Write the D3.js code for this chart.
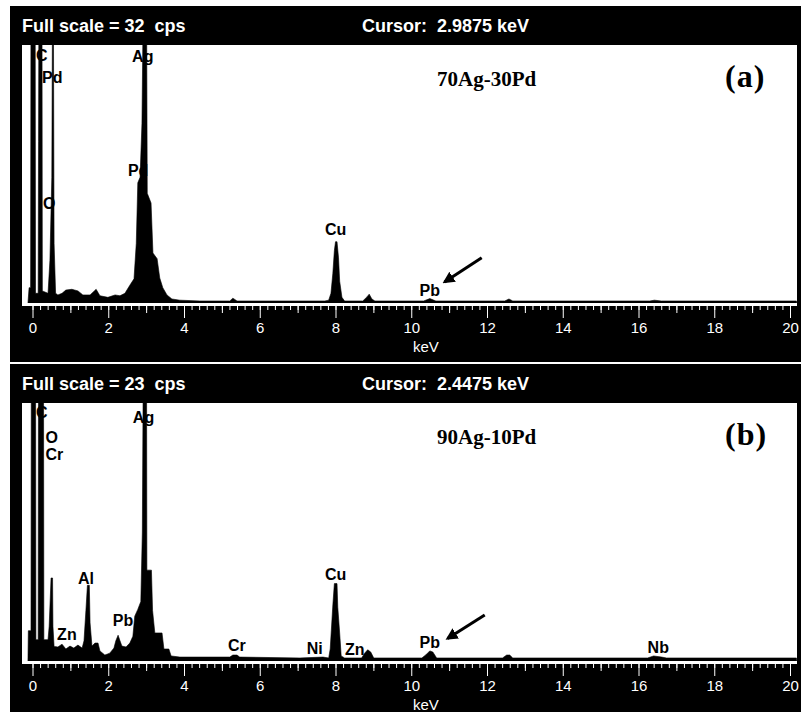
<!DOCTYPE html>
<html>
<head>
<meta charset="utf-8">
<script src="https://cdn.jsdelivr.net/npm/d3@7"></script>
<style>
  body { margin: 0; background: #fff; }
  svg { display: block; }
</style>
</head>
<body>
<svg width="801" height="712"></svg>
<script>
// tick labels on the energy axis (keV)
var tickLabels = [0, 2, 4, 6, 8, 10, 12, 14, 16, 18, 20];

// spectrum (a) 70Ag-30Pd : [keV, cps]
var spectrumA = [
  [-0.12, 0], [-0.09, 1.9], [-0.05, 1.9], [-0.04, 40], [0.07, 40], [0.08, 1.2],
  [0.15, 1.2], [0.16, 20], [0.17, 40], [0.25, 40], [0.26, 1.5], [0.41, 1.2],
  [0.46, 5.3], [0.51, 15.6], [0.53, 40], [0.55, 40], [0.57, 7.4], [0.61, 1.2],
  [0.67, 1.0], [0.78, 1.2], [0.88, 1.6], [1.04, 1.7], [1.20, 1.5], [1.33, 1.0],
  [1.52, 1.0], [1.68, 1.7], [1.78, 0.9], [1.99, 0.7], [2.18, 1.0], [2.31, 0.9],
  [2.44, 1.2], [2.57, 2.2], [2.68, 3.0], [2.74, 7.4], [2.78, 14.9], [2.84, 15.6],
  [2.89, 22.3], [2.93, 40], [3.01, 40], [3.03, 13.6], [3.13, 12.4], [3.18, 6.2],
  [3.29, 5.5], [3.36, 3.1], [3.44, 1.9], [3.55, 1.0], [3.68, 0.5], [3.89, 0.35],
  [4.42, 0.25], [5.21, 0.25], [5.29, 0.6], [5.40, 0.25], [6.53, 0.25], [7.72, 0.25],
  [7.82, 0.35], [7.88, 1.2], [7.93, 3.7], [7.97, 6.5], [8.00, 7.6], [8.04, 7.6],
  [8.08, 5.6], [8.11, 2.7], [8.17, 0.7], [8.24, 0.25], [8.72, 0.25], [8.83, 0.75],
  [8.89, 1.1], [8.96, 0.5], [9.04, 0.25], [10.33, 0.25], [10.49, 0.55], [10.65, 0.25],
  [12.47, 0.25], [12.58, 0.5], [12.68, 0.25], [16.30, 0.25], [16.42, 0.35], [16.60, 0.25],
  [20.17, 0.25], [20.18, 0]
];

// spectrum (b) 90Ag-10Pd : [keV, cps]
var spectrumB = [
  [-0.12, 0], [-0.11, 2.7], [-0.04, 2.7], [-0.03, 30], [0.08, 30], [0.09, 1.9],
  [0.15, 1.9], [0.16, 30], [0.29, 30], [0.30, 1.9], [0.41, 1.9], [0.44, 3.1],
  [0.49, 7.4], [0.53, 7.4], [0.54, 3.1], [0.57, 1.3], [0.67, 1.25], [0.78, 1.5],
  [0.88, 1.07], [0.99, 1.33], [1.09, 1.15], [1.20, 1.42], [1.31, 1.15], [1.36, 1.8],
  [1.41, 4.5], [1.45, 6.75], [1.50, 6.75], [1.52, 3.4], [1.57, 1.33], [1.65, 1.6],
  [1.73, 1.6], [1.78, 0.9], [1.91, 0.53], [2.04, 0.7], [2.15, 1.15], [2.20, 1.8],
  [2.26, 2.3], [2.31, 1.8], [2.36, 1.33], [2.47, 1.25], [2.57, 1.6], [2.65, 2.2],
  [2.70, 4.0], [2.78, 4.6], [2.86, 5.3], [2.90, 11.5], [2.93, 30], [3.01, 30],
  [3.02, 8.1], [3.14, 8.1], [3.17, 4.5], [3.23, 2.5], [3.42, 2.5], [3.47, 1.07],
  [3.60, 1.07], [3.66, 0.45], [3.89, 0.35], [5.21, 0.35], [5.29, 0.53], [5.40, 0.53],
  [5.47, 0.35], [7.06, 0.27], [7.67, 0.35], [7.82, 0.27], [7.86, 1.07], [7.89, 2.75],
  [7.93, 5.0], [7.97, 6.9], [8.04, 6.9], [8.06, 4.8], [8.11, 2.5], [8.15, 0.45],
  [8.24, 0.27], [8.69, 0.27], [8.77, 0.7], [8.85, 1.0], [8.93, 0.8], [9.01, 0.27],
  [10.28, 0.27], [10.38, 0.53], [10.49, 0.9], [10.57, 0.8], [10.67, 0.27], [12.41, 0.27],
  [12.52, 0.53], [12.60, 0.53], [12.68, 0.27], [16.24, 0.27], [16.40, 0.45], [16.61, 0.35],
  [16.74, 0.27], [20.17, 0.27], [20.18, 0]
];

// peak labels: [text, keV, cps]
var labelsA = [
  ['C', 0.09, 30.0], ['Pd', 0.25, 27.3], ['Ag', 2.63, 29.9], ['Pd', 2.52, 15.8],
  ['O', 0.28, 11.7], ['Cu', 7.72, 8.4], ['Pb', 10.22, 0.87]
];
var labelsB = [
  ['C', 0.09, 21.7], ['O', 0.34, 19.4], ['Cr', 0.34, 17.9], ['Ag', 2.65, 21.2],
  ['Al', 1.20, 6.9], ['Zn', 0.65, 1.87], ['Pb', 2.12, 3.1], ['Cr', 5.16, 0.89],
  ['Ni', 7.24, 0.62], ['Cu', 7.72, 7.2], ['Zn', 8.25, 0.53], ['Pb', 10.22, 1.15],
  ['Nb', 16.24, 0.71]
];

// arrows pointing at the Pb peak: [keV, cps] tail -> head
var arrowA = [[11.86, 5.6], [10.88, 2.6]];
var arrowB = [[11.94, 4.1], [10.96, 2.0]];

var panels = [
  { top: 6, bottom: 362, fullScale: 32, cursor: '2.9875', sample: '70Ag-30Pd', tag: '(a)',
    data: spectrumA, labels: labelsA, arrow: arrowA },
  { top: 364, bottom: 712, fullScale: 23, cursor: '2.4475', sample: '90Ag-10Pd', tag: '(b)',
    data: spectrumB, labels: labelsB, arrow: arrowB }
];

var svg = d3.select('svg');

var defs = svg.append('defs');
defs.append('marker')
  .attr('id', 'head')
  .attr('viewBox', '0 0 10 10')
  .attr('refX', 8).attr('refY', 5)
  .attr('markerWidth', 4).attr('markerHeight', 4)
  .attr('orient', 'auto')
  .append('path')
  .attr('d', 'M0,0L10,5L0,10z')
  .attr('fill', 'black');

var x = d3.scaleLinear().domain([0, 20]).range([32.5, 790]);

panels.forEach(function(p, i) {
  var g = svg.append('g');
  var plotTop = p.top + 39;
  var base = p.top + 297;
  var axisY = base + 3;

  var y = d3.scaleLinear().domain([0, p.fullScale]).range([base, plotTop]);

  g.append('rect')
    .attr('x', 10).attr('y', p.top)
    .attr('width', 791).attr('height', p.bottom - p.top)
    .attr('fill', 'black');

  g.append('rect')
    .attr('x', 22).attr('y', plotTop)
    .attr('width', 775).attr('height', axisY - plotTop)
    .attr('fill', 'white');

  // header
  g.append('text')
    .attr('x', 22).attr('y', p.top + 26)
    .attr('fill', 'white')
    .style('font', 'bold 18px "Liberation Sans", Arial, sans-serif')
    .attr('xml:space', 'preserve')
    .text('Full scale = ' + p.fullScale + '  cps');

  g.append('text')
    .attr('x', 362).attr('y', p.top + 26)
    .attr('fill', 'white')
    .style('font', 'bold 18px "Liberation Sans", Arial, sans-serif')
    .attr('xml:space', 'preserve')
    .text('Cursor:  ' + p.cursor + ' keV');

  // sample name and panel tag
  g.append('text')
    .attr('x', 437).attr('y', plotTop + 41)
    .attr('fill', 'black')
    .style('font', 'bold 21px "Liberation Serif", "Times New Roman", serif')
    .text(p.sample);

  g.append('text')
    .attr('x', 725).attr('y', plotTop + 42)
    .attr('fill', 'black')
    .style('font', 'bold 32px "Liberation Serif", "Times New Roman", serif')
    .style('letter-spacing', '1px')
    .text(p.tag);

  // peak labels
  g.selectAll('text.lbl')
    .data(p.labels)
    .enter().append('text')
    .attr('class', 'lbl')
    .attr('x', function(d) { return x(d[1]); })
    .attr('y', function(d) { return y(d[2]); })
    .attr('fill', 'black')
    .style('font', 'bold 16px "Liberation Sans", Arial, sans-serif')
    .text(function(d) { return d[0]; });

  // spectrum
  var clipId = 'clip' + i;
  defs.append('clipPath').attr('id', clipId)
    .append('rect')
    .attr('x', 22).attr('y', plotTop)
    .attr('width', 775).attr('height', base - plotTop);

  var area = d3.area()
    .x(function(d) { return x(d[0]); })
    .y0(y(0))
    .y1(function(d) { return y(d[1]); });

  g.append('path')
    .datum(p.data)
    .attr('clip-path', 'url(#' + clipId + ')')
    .attr('d', area)
    .attr('fill', 'black')
    .attr('stroke', 'black')
    .attr('stroke-width', 0.6);

  // arrow
  g.append('line')
    .attr('x1', x(p.arrow[0][0])).attr('y1', y(p.arrow[0][1]))
    .attr('x2', x(p.arrow[1][0])).attr('y2', y(p.arrow[1][1]))
    .attr('stroke', 'black')
    .attr('stroke-width', 3)
    .attr('marker-end', 'url(#head)');

  // energy axis
  var axisG = g.append('g').attr('transform', 'translate(0,' + axisY + ')');

  axisG.append('g')
    .call(d3.axisBottom(x).tickValues(d3.range(0, 20.001, 0.2)).tickSize(4).tickFormat(''));
  axisG.append('g')
    .call(d3.axisBottom(x).tickValues([1, 3, 5, 7, 9, 11, 13, 15, 17, 19]).tickSize(7).tickFormat(''));
  axisG.append('g')
    .call(d3.axisBottom(x).tickValues(tickLabels).tickSize(12).tickPadding(4).tickFormat(d3.format('d')));

  axisG.selectAll('.domain').remove();
  axisG.selectAll('line').attr('stroke', 'white');
  axisG.selectAll('text')
    .attr('fill', 'white')
    .style('font', '15px "Liberation Sans", Arial, sans-serif');

  g.append('text')
    .attr('x', 413).attr('y', axisY + 46)
    .attr('fill', 'white')
    .style('font', '15px "Liberation Sans", Arial, sans-serif')
    .text('keV');
});
</script>
</body>
</html>
